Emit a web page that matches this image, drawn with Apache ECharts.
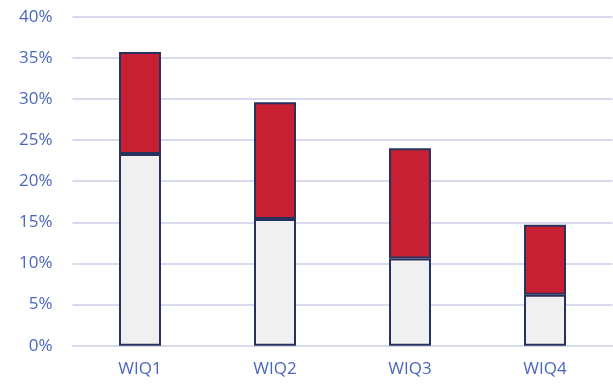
<!DOCTYPE html>
<html>
<head>
<meta charset="utf-8">
<script src="https://cdn.jsdelivr.net/npm/echarts@6/dist/echarts.min.js"></script>
<style>
  html, body { margin: 0; padding: 0; background: #ffffff; }
  #chart { width: 613px; height: 387px; }
</style>
</head>
<body>
<div id="chart"></div>
<script>
// Categories and stacked shares (percent)
const categories = ['WIQ1', 'WIQ2', 'WIQ3', 'WIQ4'];
const baseShare = [23.3, 15.4, 10.6, 6.2];
const topShare = [12.4, 14.2, 13.4, 8.5];
const yTicks = { min: 0, max: 40, interval: 5 };

const labelColor = '#4A66BE';
const gridColor = '#D8DBEE';
const edgeColor = '#29325F';

const chart = echarts.init(document.getElementById('chart'), null, { renderer: 'canvas' });

chart.setOption({
  animation: false,
  backgroundColor: '#ffffff',
  grid: { left: 72.5, right: 0.5, top: 16.7, bottom: 41.3, containLabel: false },
  xAxis: {
    type: 'category',
    data: categories,
    axisTick: { show: false },
    axisLine: { show: true, lineStyle: { color: gridColor, width: 2 } },
    axisLabel: {
      color: labelColor,
      fontFamily: 'Open Sans',
      fontSize: 17,
      margin: 15
    }
  },
  yAxis: {
    type: 'value',
    min: yTicks.min,
    max: yTicks.max,
    interval: yTicks.interval,
    axisLine: { show: false },
    axisTick: { show: false },
    splitLine: { show: true, lineStyle: { color: gridColor, width: 2 } },
    axisLabel: {
      color: labelColor,
      fontFamily: 'Open Sans',
      fontSize: 17,
      margin: 20,
      formatter: v => v + '%'
    }
  },
  series: [
    {
      name: 'base',
      type: 'bar',
      stack: 'total',
      barWidth: 42,
      data: baseShare,
      itemStyle: { color: '#F0F0F0', borderColor: edgeColor, borderWidth: 2 }
    },
    {
      name: 'top',
      type: 'bar',
      stack: 'total',
      barWidth: 42,
      data: topShare,
      itemStyle: { color: '#C62032', borderColor: edgeColor, borderWidth: 2 }
    }
  ]
});
</script>
</body>
</html>
